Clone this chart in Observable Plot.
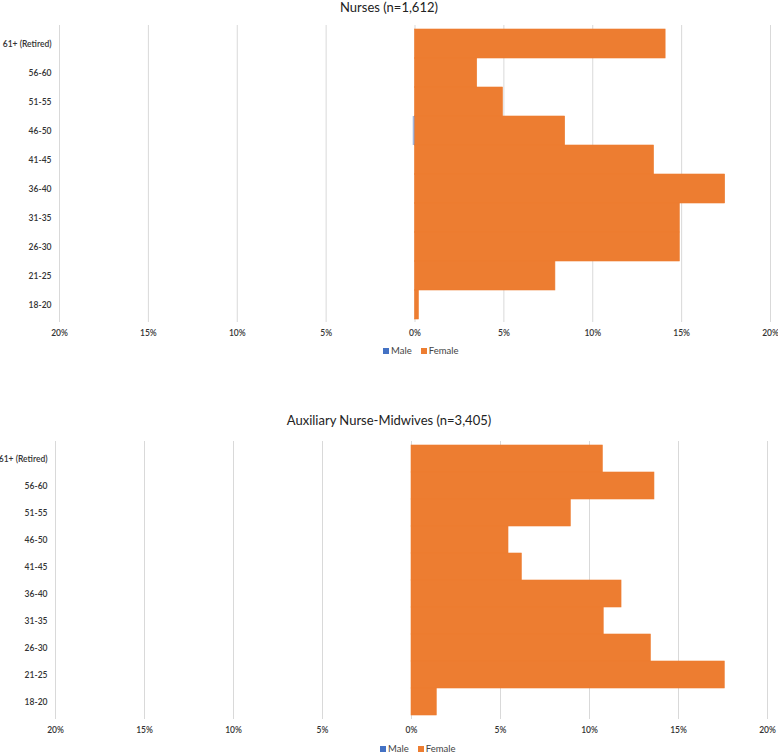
<!DOCTYPE html>
<html>
<head>
<meta charset="utf-8">
<script src="https://cdn.jsdelivr.net/npm/d3@7"></script>
<script src="https://cdn.jsdelivr.net/npm/@observablehq/plot@0.6"></script>
<style>
  html, body { margin: 0; padding: 0; background: #fff; }
  #root { position: relative; width: 778px; height: 753px; overflow: hidden; font-family: Lato, "Open Sans", sans-serif; }
  .title { position: absolute; left: 0; width: 778px; text-align: center; color: #222; line-height: 14px; }
  .legend { position: absolute; font-size: 9.5px; color: #444; white-space: nowrap; }
  .legend span.sw { display: inline-block; width: 6px; height: 6px; margin-right: 2px; vertical-align: 0px; }
  .legend span.item { margin-right: 9px; }
  .chart { position: absolute; left: 0; }
</style>
</head>
<body>
<div id="root"></div>
<script>
const ageGroups = ["61+ (Retired)", "56-60", "51-55", "46-50", "41-45", "36-40", "31-35", "26-30", "21-25", "18-20"];
const xTicks = [-20, -15, -10, -5, 0, 5, 10, 15, 20];

const nursesTitle = "Nurses (n=1,612)";
const nursesFemale = [14.1, 3.5, 4.95, 8.45, 13.45, 17.45, 14.9, 14.9, 7.9, 0.22];
const nursesMale   = [0, 0, 0, 0.1, 0, 0, 0, 0, 0, 0];

const anmTitle = "Auxiliary Nurse-Midwives (n=3,405)";
const anmFemale = [10.75, 13.65, 8.95, 5.45, 6.2, 11.8, 10.8, 13.45, 17.6, 1.42];
const anmMale   = [0, 0, 0, 0, 0, 0, 0, 0, 0, 0];

const seriesNames = ["Male", "Female"];
const seriesColors = ["#4472C4", "#ED7D31"];

function buildRows(female, male) {
  const rows = [];
  ageGroups.forEach((g, i) => {
    rows.push({age: g, sex: "Female", value: female[i]});
    rows.push({age: g, sex: "Male", value: -male[i]});
  });
  return rows;
}

function makeChart(female, male, opts) {
  const rows = buildRows(female, male).filter(d => d.value !== 0);
  return Plot.plot({
    width: 778,
    height: opts.height,
    marginLeft: opts.marginLeft,
    marginRight: opts.marginRight,
    marginTop: opts.marginTop,
    marginBottom: opts.marginBottom,
    style: {fontFamily: "Lato, 'Open Sans', sans-serif", fontSize: "8.5px", color: "#333", background: "#fff"},
    x: {domain: [-20, 20], ticks: xTicks, tickFormat: d => Math.abs(d) + "%", tickSize: 0, tickPadding: 7, label: null},
    y: {domain: ageGroups, padding: 0, tickSize: 0, tickPadding: 8, label: null},
    color: {domain: seriesNames, range: seriesColors},
    marks: [
      Plot.ruleX(xTicks, {stroke: "#d9d9d9", strokeWidth: 1}),
      Plot.barX(rows, {x: "value", y: "age", fill: "sex", fillOpacity: d => d.sex === "Male" ? 0.5 : 1, inset: 0, stroke: d => d.sex === "Male" ? "none" : "#ED7D31", strokeWidth: 0.6}),
      Plot.axisX({ticks: xTicks, tickFormat: d => Math.abs(d) + "%", tickSize: 0, tickPadding: 7, fontWeight: 600, fontSize: 8.5}),
      Plot.axisY({tickSize: 0, tickPadding: 8, fontWeight: 600, fontSize: 8.5})
    ]
  });
}

function legend(left, top) {
  const div = document.createElement("div");
  div.className = "legend";
  div.style.left = left + "px";
  div.style.top = top + "px";
  seriesNames.forEach((n, i) => {
    const it = document.createElement("span");
    it.className = "item";
    const sw = document.createElement("span");
    sw.className = "sw";
    sw.style.background = seriesColors[i];
    it.appendChild(sw);
    it.appendChild(document.createTextNode(n));
    div.appendChild(it);
  });
  return div;
}

const root = document.getElementById("root");

// Top chart
const c1 = makeChart(nursesFemale, nursesMale, {height: 340, marginLeft: 59, marginRight: 8, marginTop: 25, marginBottom: 18});
c1.classList.add("chart");
c1.style.top = "0px";
root.appendChild(c1);
const t1 = document.createElement("div");
t1.className = "title";
t1.style.top = "0px";
t1.style.fontSize = "13px";
t1.textContent = nursesTitle;
root.appendChild(t1);
root.appendChild(legend(383, 345));

// Bottom chart
const c2 = makeChart(anmFemale, anmMale, {height: 321, marginLeft: 55, marginRight: 11, marginTop: 25, marginBottom: 18});
c2.classList.add("chart");
c2.style.top = "416px";
root.appendChild(c2);
const t2 = document.createElement("div");
t2.className = "title";
t2.style.top = "413px";
t2.style.fontSize = "13px";
t2.textContent = anmTitle;
root.appendChild(t2);
root.appendChild(legend(380, 743));
</script>
</body>
</html>
